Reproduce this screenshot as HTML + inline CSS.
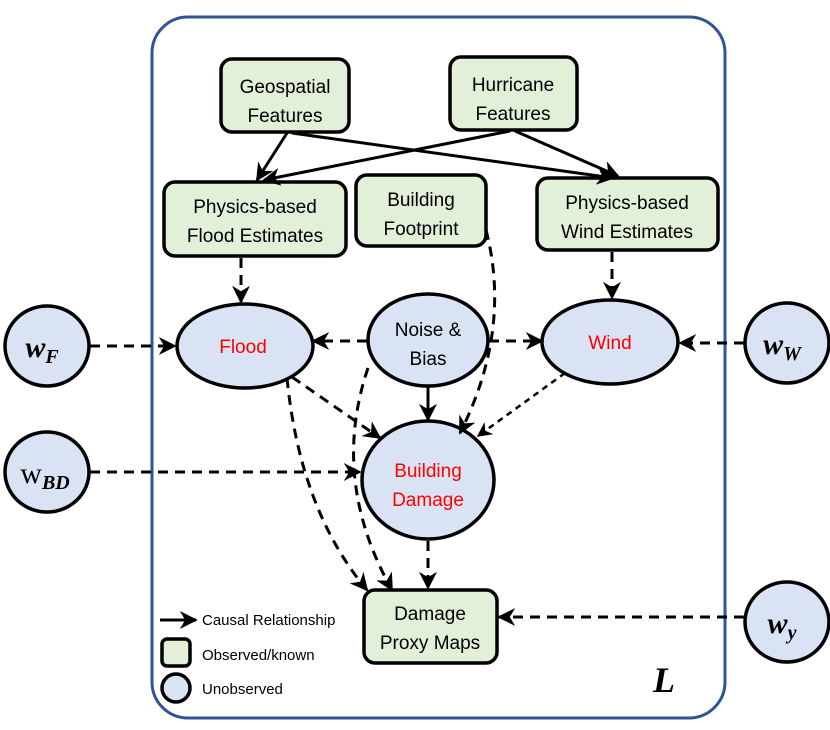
<!DOCTYPE html>
<html><head><meta charset="utf-8"><style>
body{margin:0;background:#fff;}
svg{display:block;}
text{font-family:"Liberation Sans",sans-serif;font-size:19px;text-anchor:middle;}
text.lg{font-size:15px;text-anchor:start;}
text.m{font-family:"Liberation Serif",serif;font-weight:bold;font-style:italic;font-size:30px;}
text.L{font-family:"Liberation Serif",serif;font-weight:bold;font-style:italic;font-size:36px;}
</style></head><body>
<svg width="830" height="730" viewBox="0 0 830 730" xmlns="http://www.w3.org/2000/svg">
<defs>
<marker id="a" viewBox="0 0 10 10" refX="9" refY="5" markerWidth="6" markerHeight="6" orient="auto"><path d="M0,0 L10,5 L0,10 L3,5 Z" fill="#000"/></marker>
</defs>
<rect x="152" y="17" width="573" height="701" rx="36" fill="#fff" stroke="#2f5597" stroke-width="3"/>

<g fill="#e2efd9" stroke="#000" stroke-width="3.5">
<rect x="221" y="59" width="128" height="73" rx="11"/>
<rect x="450" y="57" width="127" height="73" rx="11"/>
<rect x="164" y="182" width="182" height="74" rx="11"/>
<rect x="356" y="175" width="130" height="71" rx="11"/>
<rect x="537" y="178" width="181" height="72" rx="11"/>
<rect x="364" y="590" width="133" height="73" rx="11"/>
<rect x="162" y="639" width="28" height="27" rx="5"/>
</g>
<g fill="#dae3f3" stroke="#000" stroke-width="3.5">
<ellipse cx="245" cy="346" rx="68" ry="42"/>
<ellipse cx="428" cy="340" rx="60" ry="46"/>
<ellipse cx="610" cy="342" rx="68" ry="42"/>
<ellipse cx="428" cy="480" rx="66" ry="59"/>
<ellipse cx="47" cy="346" rx="42" ry="40"/>
<ellipse cx="47" cy="472" rx="42" ry="40"/>
<ellipse cx="787" cy="343" rx="42" ry="40"/>
<ellipse cx="787" cy="622" rx="42" ry="40"/>
<circle cx="176" cy="688" r="14"/>
</g>

<g stroke="#000" stroke-width="3" fill="none" marker-end="url(#a)">
<line x1="287" y1="133" x2="257" y2="180"/>
<line x1="292" y1="133" x2="613" y2="178"/>
<line x1="510" y1="131" x2="264" y2="180"/>
<line x1="515" y1="131" x2="618" y2="176"/>
<line x1="428" y1="387" x2="428" y2="420"/>
<line x1="160" y1="620" x2="196" y2="620"/>
</g>
<g stroke="#000" stroke-width="3" fill="none" stroke-dasharray="10,7" marker-end="url(#a)">
<line x1="241" y1="258" x2="241" y2="302"/>
<line x1="612" y1="252" x2="612" y2="298"/>
<line x1="90" y1="346" x2="175" y2="346"/>
<line x1="744" y1="343" x2="680" y2="343"/>
<line x1="90" y1="472" x2="360" y2="472"/>
<line x1="744" y1="617" x2="499" y2="617"/>
<line x1="367" y1="341" x2="313" y2="341"/>
<line x1="489" y1="341" x2="542" y2="341"/>
<line x1="292" y1="377" x2="380" y2="438"/>
<path d="M486,230 Q512,330 460,433"/>
<path d="M368,368 Q330,480 392,590"/>
<path d="M287,378 Q300,510 367,590"/>
<line x1="428" y1="541" x2="428" y2="588"/>
</g>
<line x1="565" y1="373" x2="478" y2="436" stroke="#000" stroke-width="2.5" stroke-dasharray="6,5" marker-end="url(#a)"/>

<text x="285" y="93">Geospatial</text><text x="285" y="122">Features</text>
<text x="513" y="91">Hurricane</text><text x="513" y="120">Features</text>
<text x="255" y="213">Physics-based</text><text x="255" y="242">Flood Estimates</text>
<text x="421" y="206">Building</text><text x="421" y="235">Footprint</text>
<text x="627" y="209">Physics-based</text><text x="627" y="238">Wind Estimates</text>
<text x="243" y="353" fill="#ff0000">Flood</text>
<text x="428" y="336">Noise &amp;</text><text x="428" y="365">Bias</text>
<text x="610" y="349" fill="#ff0000">Wind</text>
<text x="428" y="477" fill="#ff0000">Building</text><text x="428" y="506" fill="#ff0000">Damage</text>
<text x="430" y="620">Damage</text><text x="430" y="649">Proxy Maps</text>
<text class="lg" x="202" y="625">Causal Relationship</text>
<text class="lg" x="202" y="660">Observed/known</text>
<text class="lg" x="202" y="694">Unobserved</text>

<text class="m" x="42" y="357">w<tspan font-size="20" dy="6">F</tspan></text>
<text class="m" x="45" y="483" style="font-weight:normal;font-style:normal">w<tspan font-size="20" dy="6" font-weight="bold" font-style="italic">BD</tspan></text>
<text class="m" x="782" y="354">w<tspan font-size="20" dy="6">W</tspan></text>
<text class="m" x="782" y="633">w<tspan font-size="20" dy="6">y</tspan></text>
<text class="L" x="664" y="692">L</text>
</svg>
</body></html>
